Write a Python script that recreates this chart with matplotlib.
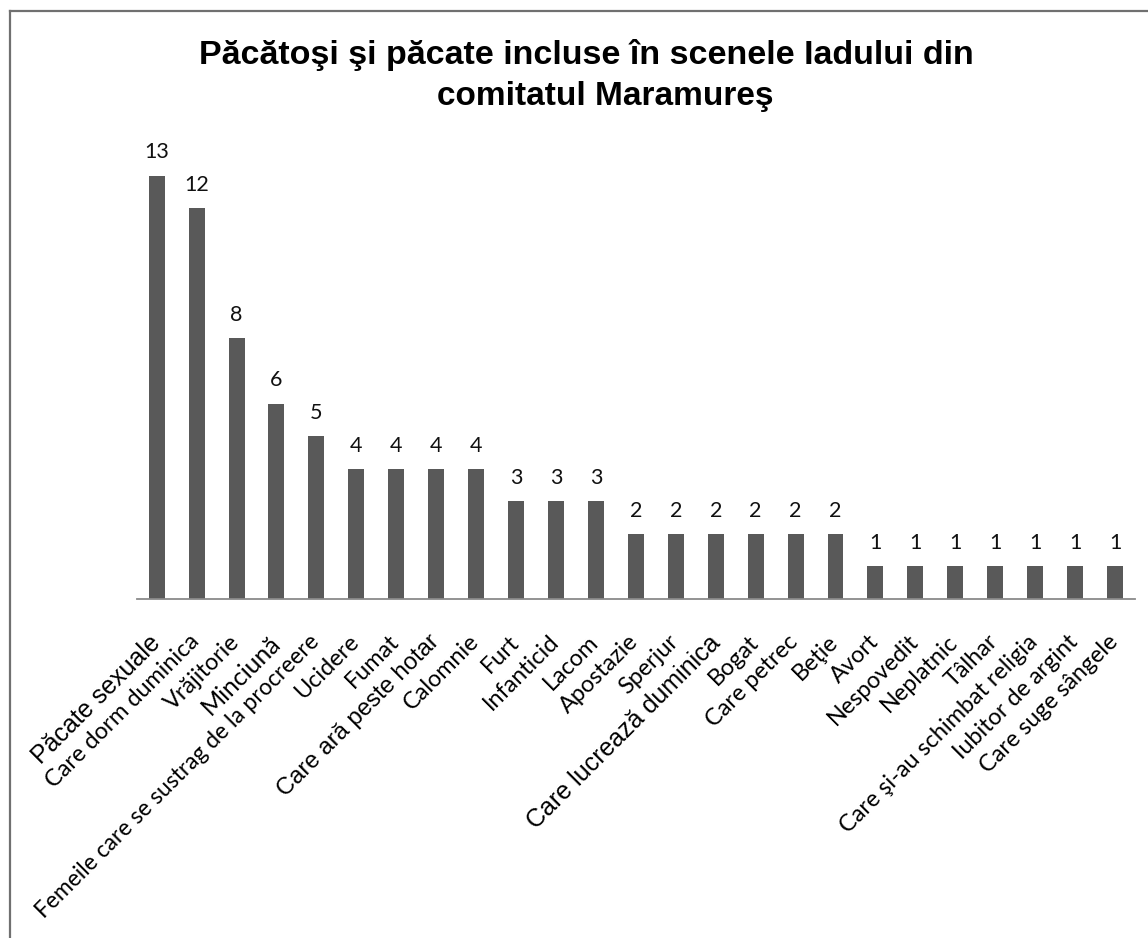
import matplotlib
matplotlib.use("Agg")
import matplotlib.pyplot as plt
from matplotlib.lines import Line2D
from matplotlib.transforms import ScaledTranslation

# ---- data ----
categories = [
    "Păcate sexuale", "Care dorm duminica", "Vrăjitorie", "Minciună",
    "Femeile care se sustrag de la procreere", "Ucidere", "Fumat",
    "Care ară peste hotar", "Calomnie", "Furt", "Infanticid", "Lacom",
    "Apostazie", "Sperjur", "Care lucrează duminica", "Bogat", "Care petrec",
    "Beţie", "Avort", "Nespovedit", "Neplatnic", "Tâlhar",
    "Care şi-au schimbat religia", "Iubitor de argint", "Care suge sângele",
]
values = [13, 12, 8, 6, 5, 4, 4, 4, 4, 3, 3, 3, 2, 2, 2, 2, 2, 2, 1, 1, 1, 1, 1, 1, 1]
title_lines = ["Păcătoşi şi păcate incluse în scenele Iadului din",
               "comitatul Maramureş"]

# ---- style ----
# a few labels in the original use a different (Arial-like) typeface
arial_labels = {"Păcate sexuale": 18, "Care ară peste hotar": 17.2,
                "Care lucrează duminica": 18}
lato_sizes = {"Minciună": 18, "Femeile care se sustrag de la procreere": 16.4}
base_size = 16.8

W, H = 1148, 938
fig = plt.figure(figsize=(W / 100, H / 100), dpi=100)
fig.patch.set_facecolor("white")

ax = fig.add_axes([136.7 / W, 1 - 599 / H, (1135 - 136.7) / W, (599 - 143) / H])
x = list(range(len(categories)))
bars = ax.bar(x, values, width=0.4, color="#595959")
ax.set_xlim(-0.5, len(categories) - 0.5)
ax.set_ylim(0, 14)
for s in ["top", "right", "left"]:
    ax.spines[s].set_visible(False)
ax.spines["bottom"].set_color("#8a8a8a")
ax.spines["bottom"].set_linewidth(1.3)
ax.set_yticks([])
ax.set_xticks(x)
ax.set_xticklabels([])
ax.tick_params(axis="x", length=0)

lbl_tr = ax.get_xaxis_transform() + ScaledTranslation(-8 / 100, -32 / 100, fig.dpi_scale_trans)
for xi, name in zip(x, categories):
    if name in arial_labels:
        fam, fs = "Liberation Sans", arial_labels[name]
    else:
        fam, fs = "Lato", lato_sizes.get(name, base_size)
    ax.text(xi, 0, name, transform=lbl_tr, rotation=45, ha="right", va="top",
            rotation_mode="anchor", family=fam, color="black",
            fontsize=fs, clip_on=False)

ax.bar_label(bars, labels=[str(v) for v in values], padding=9.5,
             fontsize=15.5, family="Lato", color="#111111")

# title
fig.text(586 / W, 1 - 64 / H, title_lines[0], ha="center", va="baseline",
         family="Liberation Sans", fontweight="bold", fontsize=24.5)
fig.text(605 / W, 1 - 105 / H, title_lines[1], ha="center", va="baseline",
         family="Liberation Sans", fontweight="bold", fontsize=24)

# chart frame (left and top edges visible)
fig.add_artist(Line2D([9.5 / W, 9.5 / W], [0, 1 - 11 / H], transform=fig.transFigure,
                      color="#707070", lw=1.6))
fig.add_artist(Line2D([9.5 / W, 1], [1 - 11 / H, 1 - 11 / H], transform=fig.transFigure,
                      color="#707070", lw=1.6))

fig.savefig("out.png", dpi=100, facecolor="white")
